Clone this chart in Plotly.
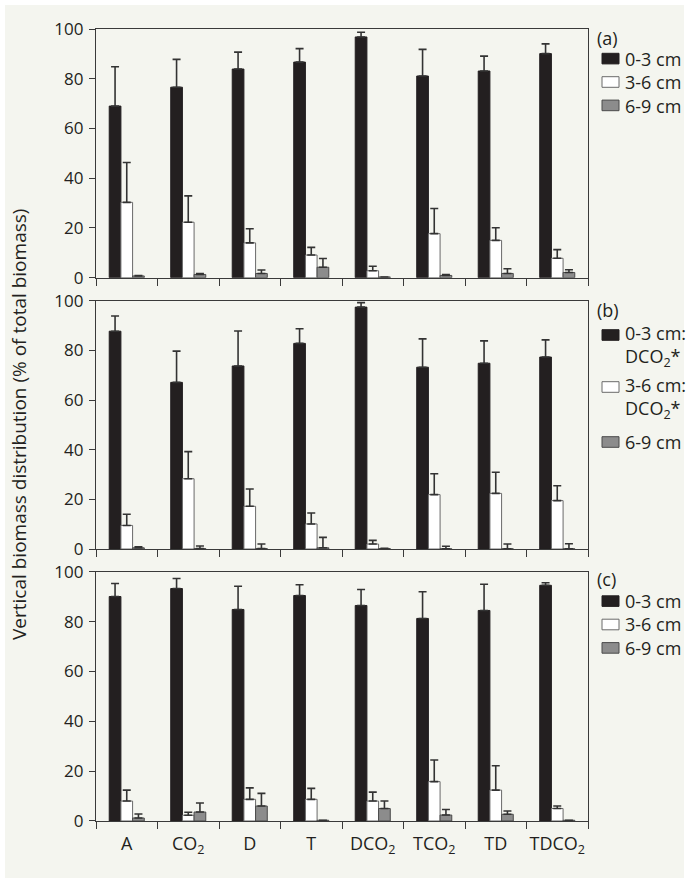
import plotly.graph_objects as go

categories = ["A", "CO<sub>2</sub>", "D", "T", "DCO<sub>2</sub>", "TCO<sub>2</sub>", "TD", "TDCO<sub>2</sub>"]
legend_a = ["0-3 cm", "3-6 cm", "6-9 cm"]
legend_b = ["0-3 cm:<br>DCO<sub>2</sub>*", "3-6 cm:<br>DCO<sub>2</sub>*", "6-9 cm"]
legend_c = ["0-3 cm", "3-6 cm", "6-9 cm"]
panel_labels = ["(a)", "(b)", "(c)"]

# Panel (a)
a_top = [69.0, 76.6, 83.9, 86.7, 96.8, 81.1, 83.1, 90.1]
a_top_err = [15.8, 11.2, 6.8, 5.4, 1.9, 10.7, 6.0, 3.9]
a_mid = [30.3, 22.3, 14.0, 9.1, 2.8, 17.7, 15.0, 7.8]
a_mid_err = [16.0, 10.6, 5.7, 3.1, 1.8, 10.1, 5.1, 3.5]
a_low = [0.7, 1.3, 1.7, 4.2, 0.3, 0.9, 1.7, 2.1]
a_low_err = [0.2, 0.4, 1.4, 3.5, 0.0, 0.4, 1.9, 1.1]

# Panel (b)
b_top = [87.7, 67.1, 73.7, 82.8, 97.4, 73.2, 74.8, 77.3]
b_top_err = [6.1, 12.6, 14.1, 5.9, 1.8, 11.4, 9.0, 6.9]
b_mid = [9.5, 28.3, 17.2, 10.1, 2.0, 21.9, 22.4, 19.5]
b_mid_err = [4.5, 10.9, 7.0, 4.4, 1.5, 8.4, 8.5, 6.0]
b_low = [0.5, 0.2, 0.2, 0.5, 0.2, 0.1, 0.1, 0.1]
b_low_err = [0.4, 1.0, 1.8, 4.2, 0.1, 1.0, 1.9, 2.0]

# Panel (c)
c_top = [90.1, 93.3, 84.9, 90.5, 86.5, 81.3, 84.5, 94.6]
c_top_err = [5.2, 4.0, 9.3, 4.3, 6.4, 10.7, 10.5, 1.0]
c_mid = [8.0, 2.3, 8.7, 8.7, 8.0, 15.8, 12.4, 5.0]
c_mid_err = [4.4, 1.2, 4.6, 4.4, 3.6, 8.7, 9.8, 1.0]
c_low = [1.2, 3.6, 6.0, 0.3, 5.0, 2.4, 2.7, 0.3]
c_low_err = [1.6, 3.6, 5.1, 0.0, 3.0, 2.2, 1.3, 0.0]

y_ticks = [0, 20, 40, 60, 80, 100]

FONT = "Open Sans"
TXT = "#231f20"
AX = "#3a3a3a"
BG = "#f4f5ef"

fills = ["#231f20", "#ffffff", "#8c8c8c"]
lines = ["#231f20", "#6a6a6a", "#4a4a4a"]

panels = [
    ([a_top, a_mid, a_low], [a_top_err, a_mid_err, a_low_err], "x", "y"),
    ([b_top, b_mid, b_low], [b_top_err, b_mid_err, b_low_err], "x2", "y2"),
    ([c_top, c_mid, c_low], [c_top_err, c_mid_err, c_low_err], "x3", "y3"),
]
legend_texts = [legend_a, legend_b, legend_c]

fig = go.Figure()
for pi, (vals, errs, xa, ya) in enumerate(panels):
    for si in range(3):
        fig.add_trace(go.Bar(
            x=categories, y=vals[si], name=legend_texts[pi][si].split("<br>")[0],
            xaxis=xa, yaxis=ya, showlegend=False,
            marker=dict(color=fills[si], line=dict(color=lines[si], width=1)),
            error_y=dict(type="data", symmetric=False, array=errs[si],
                         arrayminus=[0] * len(errs[si]),
                         color="#333333", thickness=1.6, width=4),
        ))

domains = [[0.686, 1.0], [0.3434, 0.657], [0.0, 0.3146]]

def xaxis(anchor, show_labels):
    return dict(
        anchor=anchor, domain=[0, 1], type="category",
        showline=True, linecolor=AX, linewidth=1.3, mirror=True,
        ticks="outside", ticklen=7, tickwidth=1.3, tickcolor=AX,
        tickson="boundaries", showticklabels=show_labels, tickangle=0,
        ticklabelstandoff=6,
        tickfont=dict(family=FONT, size=18, color=TXT),
        showgrid=False, zeroline=False,
    )

def yaxis(anchor, dom):
    return dict(
        anchor=anchor, domain=dom, range=[0, 100],
        tickvals=y_ticks, ticktext=[str(v) for v in y_ticks],
        showline=True, linecolor=AX, linewidth=1.3, mirror=True,
        ticks="outside", ticklen=6, tickwidth=1.3, tickcolor=AX,
        ticklabelstandoff=2,
        tickfont=dict(family=FONT, size=17, color=TXT),
        showgrid=False, zeroline=False,
    )

W, H = 689, 882
ML, MR, MT, MB = 96, 101, 29, 61
PW = W - ML - MR
PH = H - MT - MB

def px_x(p):
    return (p - ML) / PW

def px_y(p):
    return (H - MB - p) / PH

shapes = [dict(type="rect", xref="paper", yref="paper", layer="below",
               x0=px_x(5), x1=px_x(684), y0=px_y(878), y1=px_y(5),
               fillcolor=BG, line=dict(width=0))]
annotations = []

LEG_FONT = 18
LINE_H = 1.3 * LEG_FONT
label_y = [38, 310, 579]

def swatch(si, yc):
    shapes.append(dict(
        type="rect", xref="paper", yref="paper",
        x0=px_x(602), x1=px_x(619), y0=px_y(yc + 5.3), y1=px_y(yc - 5.3),
        fillcolor=fills[si], line=dict(color=lines[si], width=1)))

for pi in range(3):
    annotations.append(dict(
        text=panel_labels[pi], xref="paper", yref="paper",
        x=px_x(595), y=px_y(label_y[pi]), xanchor="left", yanchor="middle",
        showarrow=False, font=dict(family=FONT, size=LEG_FONT, color=TXT)))

# single-line legends (a) and (c): one text block, rows LINE_H apart
for pi, center in ((0, 82.0), (2, 624.5)):
    names = legend_texts[pi]
    for si in range(3):
        swatch(si, center + (si - 1) * LINE_H)
    annotations.append(dict(
        text="<br>".join(names), xref="paper", yref="paper", align="left",
        x=px_x(623), y=px_y(center), xanchor="left", yanchor="middle",
        showarrow=False, font=dict(family=FONT, size=LEG_FONT, color=TXT)))

# legend (b): two-line items
b_rows = [335, 387, 442]
TWO_LINE_OFFSET = 10.5
for si in range(3):
    yc = b_rows[si]
    swatch(si, yc)
    text = legend_texts[1][si]
    ty = yc + (TWO_LINE_OFFSET if "<br>" in text else 0)
    annotations.append(dict(
        text=text, xref="paper", yref="paper", align="left",
        x=px_x(623), y=px_y(ty), xanchor="left", yanchor="middle",
        showarrow=False, font=dict(family=FONT, size=LEG_FONT, color=TXT)))

annotations.append(dict(
    text="Vertical biomass distribution (% of total biomass)",
    xref="paper", yref="paper", x=px_x(19), y=px_y(425),
    xanchor="center", yanchor="middle", textangle=-90, showarrow=False,
    font=dict(family=FONT, size=19, color=TXT)))

fig.update_layout(
    width=W, height=H,
    margin=dict(l=ML, r=MR, t=MT, b=MB, autoexpand=False),
    paper_bgcolor="#ffffff", plot_bgcolor="rgba(0,0,0,0)",
    barmode="group", bargap=0.43, bargroupgap=0,
    font=dict(family=FONT, size=17, color=TXT),
    showlegend=False,
    xaxis=xaxis("y", False), yaxis=yaxis("x", domains[0]),
    xaxis2=xaxis("y2", False), yaxis2=yaxis("x2", domains[1]),
    xaxis3=xaxis("y3", True), yaxis3=yaxis("x3", domains[2]),
    shapes=shapes,
    annotations=annotations,
)

fig.write_html(
    "out.html",
    config={"displayModeBar": False},
    post_script="document.body.style.margin='0';document.body.style.padding='0';"
                "document.documentElement.style.overflow='hidden';",
)
